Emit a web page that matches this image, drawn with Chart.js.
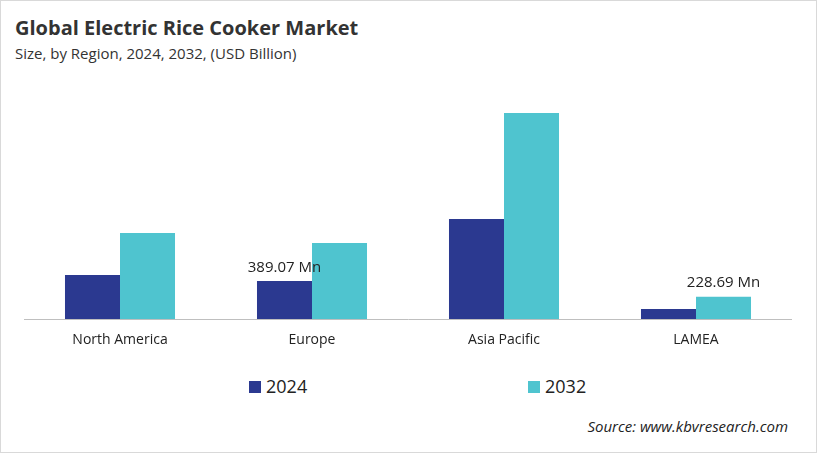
<!DOCTYPE html>
<html><head><meta charset="utf-8">
<script src="https://cdn.jsdelivr.net/npm/chart.js@4"></script>
<style>
body{margin:0;background:#fff;font-family:"Open Sans",sans-serif;}
#wrap{position:relative;width:815px;height:451px;border:1px solid #d9d9d9;overflow:hidden;}
.t{position:absolute;color:#222;white-space:nowrap;}
#cv{position:absolute;left:23px;top:98px;}
.sq{position:absolute;width:12px;height:12px;}
</style></head><body>
<div id="wrap">
<div class="t" style="left:14px;top:13px;font-size:20px;font-weight:bold;color:#333">Global Electric Rice Cooker Market</div>
<div class="t" style="left:14px;top:42px;font-size:15px;color:#333">Size, by Region, 2024, 2032, (USD Billion)</div>
<canvas id="cv" width="768" height="260" style="width:768px;height:260px"></canvas>
<div class="sq" style="left:248px;top:380px;background:#2B3990"></div>
<div class="t" style="left:265px;top:373px;font-size:18px">2024</div>
<div class="sq" style="left:527px;top:380px;background:#4FC4CF"></div>
<div class="t" style="left:544px;top:373px;font-size:18px">2032</div>
<div class="t" style="right:28px;top:415px;font-size:15px;font-style:italic">Source: www.kbvresearch.com</div>
</div>
<script>
const categories = ['North America', 'Europe', 'Asia Pacific', 'LAMEA'];
const values2024 = [450, 389.07, 1024, 102];
const values2032 = [880, 778, 2110, 228.69];
const labels2024 = [null, '389.07 Mn', null, null];
const labels2032 = [null, null, null, '228.69 Mn'];

const valueLabels = {
    id: 'valueLabels',
    afterDatasetsDraw(chart) {
        const ctx = chart.ctx;
        ctx.save();
        ctx.font = '15px "Open Sans"';
        ctx.fillStyle = '#222';
        ctx.textAlign = 'center';
        ctx.textBaseline = 'bottom';
        [labels2024, labels2032].forEach((lbls, di) => {
            chart.getDatasetMeta(di).data.forEach((bar, i) => {
                if (lbls[i]) ctx.fillText(lbls[i], bar.x, bar.y - 6);
            });
        });
        ctx.restore();
    }
};

new Chart(document.getElementById('cv'), {
    type: 'bar',
    data: {
        labels: categories,
        datasets: [
            { label: '2024', data: values2024, backgroundColor: '#2B3990' },
            { label: '2032', data: values2032, backgroundColor: '#4FC4CF' }
        ]
    },
    options: {
        responsive: false,
        animation: false,
        layout: { padding: 0 },
        datasets: { bar: { barPercentage: 1, categoryPercentage: 0.573 } },
        plugins: { legend: { display: false }, tooltip: { enabled: false } },
        scales: {
            x: {
                grid: { display: false },
                border: { color: '#bfbfbf' },
                ticks: { color: '#222', font: { family: 'Open Sans', size: 14 }, padding: 5 },
                afterFit(scale) { scale.height = 40; }
            },
            y: { display: false, min: 0, max: 2253 }
        }
    },
    plugins: [valueLabels]
});
</script>
</body></html>
